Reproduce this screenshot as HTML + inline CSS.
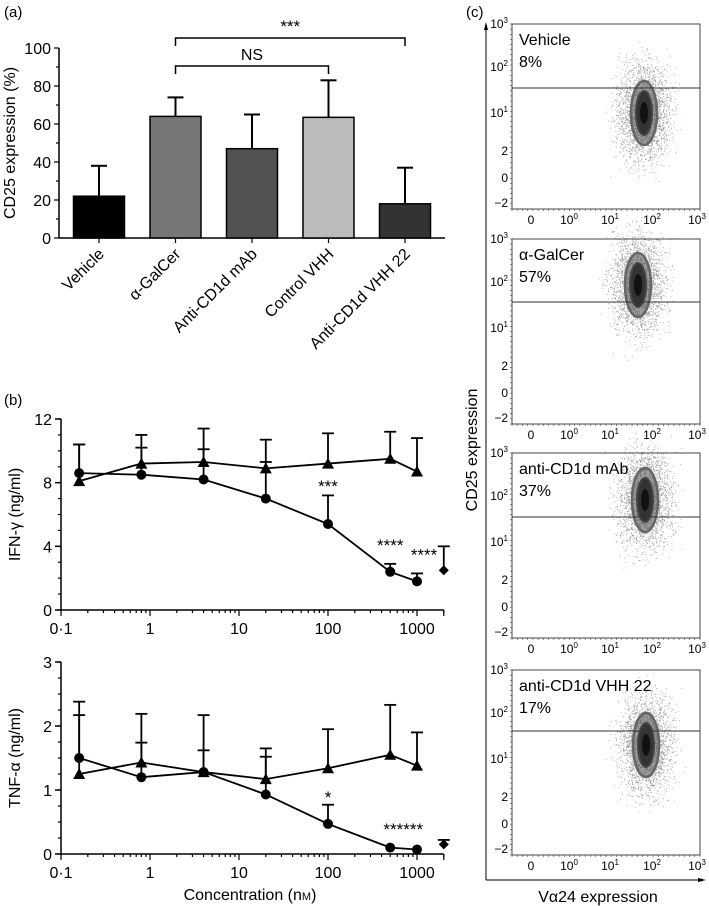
<!DOCTYPE html>
<html><head><meta charset="utf-8"><style>
html,body{margin:0;padding:0;background:#fff}
svg{display:block;font-family:"Liberation Sans",Arial,sans-serif}
</style></head><body>
<svg id="fig" width="709" height="906" viewBox="0 0 709 906" xmlns="http://www.w3.org/2000/svg">
<text x="4" y="17" font-size="15">(a)</text>
<text x="4" y="405" font-size="15">(b)</text>
<text x="466" y="17" font-size="15">(c)</text>
<g id="pa"></g>
<g id="pb1"></g>
<g id="pb2"></g>
<g id="pc"></g>
</svg>
<script>
// ---- Panel (a) data
const barCats = ["Vehicle","\u03b1-GalCer","Anti-CD1d mAb","Control VHH","Anti-CD1d VHH 22"];
const barVals = [22,64,47,63.5,18];
const barErr = [38,74,65,83,37];
const barColors = ["#000","#767676","#525252","#bbbbbb","#333"];
const barTicks = [0,20,40,60,80,100];
// ---- Panel (b) data
const concX = [0.16,0.8,4,20,100,500,1000];
const ifnCircle = [8.6,8.5,8.2,7.0,5.4,2.4,1.8];
const ifnCircleErr = [10.4,10.2,10.1,9.3,7.2,2.9,2.3];
const ifnTri = [8.1,9.2,9.3,8.9,9.2,9.5,8.7];
const ifnTriErr = [10.4,11.0,11.4,10.7,11.1,11.2,10.8];
const ifnDiamond = [2000,2.5,4.0];
const tnfCircle = [1.5,1.2,1.28,0.93,0.47,0.1,0.07];
const tnfCircleErr = [2.17,1.74,1.62,1.52,0.77,0.1,0.07];
const tnfTri = [1.25,1.43,1.28,1.17,1.34,1.55,1.38];
const tnfTriErr = [2.38,2.19,2.17,1.65,1.95,2.33,1.9];
const tnfDiamond = [2000,0.15,0.22];
const xTickVals = [0.1,1,10,100,1000];
const xTickLabels = ["0\u00b71","1","10","100","1000"];
// ---- Panel (c) data
const flowNames = ["Vehicle","\u03b1-GalCer","anti-CD1d mAb","anti-CD1d VHH 22"];
const flowPct = ["8%","57%","37%","17%"];
const flowGate = [64,63,64,61];
const flowBlobY = [89,46,47,75];
const flowBlobX = [132,126,133,134];

const NS="http://www.w3.org/2000/svg";
function mk(p,t,a,txt){const e=document.createElementNS(NS,t);for(const k in a)e.setAttribute(k,a[k]);if(txt!==undefined)e.textContent=txt;p.appendChild(e);return e;}

// ===== Panel a
(function(){
const g=document.getElementById('pa');
const X0=59,X1=445,Y0=238,Y100=48;
const y=v=>Y0+(Y100-Y0)*v/100;
const bx=i=>99+i*76.5;
mk(g,'line',{x1:X0,y1:Y100,x2:X0,y2:Y0,stroke:'#000','stroke-width':1.5});
mk(g,'line',{x1:X0,y1:Y0,x2:X1,y2:Y0,stroke:'#000','stroke-width':1.5});
for(let v=0;v<=100;v+=10){mk(g,'line',{x1:X0-(v%20?3:5),y1:y(v),x2:X0,y2:y(v),stroke:'#000','stroke-width':1.2});}
barTicks.forEach(v=>{const t=mk(g,'text',{x:X0-8,y:y(v)+6,'font-size':16,'text-anchor':'end'},v);
});
const yl=mk(g,'text',{x:0,y:0,'font-size':16,'text-anchor':'middle',transform:`translate(15,${y(50)}) rotate(-90)`},'CD25 expression (%)');

barCats.forEach((c,i)=>{
 const cx=bx(i),w=51;
 mk(g,'line',{x1:cx,y1:y(barVals[i]),x2:cx,y2:y(barErr[i]),stroke:'#000','stroke-width':2});
 mk(g,'line',{x1:cx-8,y1:y(barErr[i]),x2:cx+8,y2:y(barErr[i]),stroke:'#000','stroke-width':2});
 const r=mk(g,'rect',{x:cx-w/2,y:y(barVals[i]),width:w,height:Y0-y(barVals[i]),fill:barColors[i],stroke:'#000','stroke-width':1.5});
 
 mk(g,'line',{x1:cx,y1:Y0,x2:cx,y2:Y0+5,stroke:'#000','stroke-width':1.2});
 const t=mk(g,'text',{x:0,y:0,'font-size':16,'text-anchor':'end',transform:`translate(${cx+6},${Y0+17}) rotate(-45)`},c);
 
});
function br(i,j,yy,lab,fs){mk(g,'path',{d:`M${bx(i)},${yy+8}V${yy}H${bx(j)}V${yy+8}`,fill:'none',stroke:'#000','stroke-width':1.5});
 const t=mk(g,'text',{x:(bx(i)+bx(j))/2,y:yy-6,'font-size':fs,'text-anchor':'middle'},lab);
 }
br(1,4,38,'***',17);br(1,3,66,'NS',16);
})();

// ===== Panel b
function lineChart(id,Y0,Ytop,ymax,ticks,minor,title,circ,circE,tri,triE,dia,stars){
const g=document.getElementById(id);
const X0=61;
const x=v=>150+89*Math.log10(v);
const y=v=>Y0+(Ytop-Y0)*v/ymax;
mk(g,'line',{x1:X0,y1:Ytop,x2:X0,y2:Y0,stroke:'#000','stroke-width':1.5});
mk(g,'line',{x1:X0,y1:Y0,x2:x(2000),y2:Y0,stroke:'#000','stroke-width':1.5});
for(let v=0;v<=ymax+1e-9;v+=minor){mk(g,'line',{x1:X0-3,y1:y(v),x2:X0,y2:y(v),stroke:'#000','stroke-width':1.2});}
ticks.forEach(v=>{mk(g,'line',{x1:X0-6,y1:y(v),x2:X0,y2:y(v),stroke:'#000','stroke-width':1.5});
 const t=mk(g,'text',{x:X0-9,y:y(v)+6,'font-size':16,'text-anchor':'end'},v);
 });
for(let d=-1;d<=3;d++)for(let k=1;k<=9;k++){const v=k*Math.pow(10,d);if(v>2000)break;
 mk(g,'line',{x1:x(v),y1:Y0,x2:x(v),y2:Y0+(k==1?6:3),stroke:'#000','stroke-width':1.2});}
mk(g,'line',{x1:x(2000),y1:Y0,x2:x(2000),y2:Y0+6,stroke:'#000','stroke-width':1.2});
xTickVals.forEach((v,i)=>{const t=mk(g,'text',{x:x(v),y:Y0+24,'font-size':16,'text-anchor':'middle'},xTickLabels[i]);
 });
const yl=mk(g,'text',{x:0,y:0,'font-size':16,'text-anchor':'middle',transform:`translate(20,${(Y0+Ytop)/2}) rotate(-90)`},title);

function err(xv,v,e){if(e<=v)return;mk(g,'line',{x1:x(xv),y1:y(v),x2:x(xv),y2:y(e),stroke:'#000','stroke-width':1.8});
 mk(g,'line',{x1:x(xv)-6,y1:y(e),x2:x(xv)+6,y2:y(e),stroke:'#000','stroke-width':1.8});}
concX.forEach((c,i)=>{err(c,circ[i],circE[i]);err(c,tri[i],triE[i]);});
const lc=mk(g,'polyline',{points:concX.map((c,i)=>x(c)+','+y(circ[i])).join(' '),fill:'none',stroke:'#000','stroke-width':1.8});

const lt=mk(g,'polyline',{points:concX.map((c,i)=>x(c)+','+y(tri[i])).join(' '),fill:'none',stroke:'#000','stroke-width':1.8});

concX.forEach((c,i)=>{
 const p=mk(g,'circle',{cx:x(c),cy:y(circ[i]),r:5,fill:'#000'});
 
 const X=x(c),Y=y(tri[i]);
 const q=mk(g,'polygon',{points:`${X},${Y-6} ${X-6},${Y+5} ${X+6},${Y+5}`,fill:'#000'});
 
});
err(dia[0],dia[1],dia[2]);
const X=x(dia[0]),Y=y(dia[1]);
const d=mk(g,'polygon',{points:`${X},${Y-5} ${X+5},${Y} ${X},${Y+5} ${X-5},${Y}`,fill:'#000'});

stars.forEach(s=>{const t=mk(g,'text',{x:x(s[0]),y:y(s[1]),'font-size':17,'text-anchor':'middle'},s[2]);
 });
return {g,x,Y0};
}
lineChart('pb1',610,419,12,[0,4,8,12],1,'IFN-\u03b3 (ng/ml)',ifnCircle,ifnCircleErr,ifnTri,ifnTriErr,ifnDiamond,
 [[100,7.4,'***'],[500,3.7,'****'],[1200,3.1,'****']]);
const r2=lineChart('pb2',854,662,3,[0,1,2,3],0.25,'TNF-\u03b1 (ng/ml)',tnfCircle,tnfCircleErr,tnfTri,tnfTriErr,tnfDiamond,
 [[100,0.8,'*'],[700,0.3,'******']]);
(function(){const t=mk(r2.g,'text',{x:250,y:900,'font-size':16,'text-anchor':'middle'},'Concentration (n');
 mk(t,'tspan',{'font-size':11},'M');t.appendChild(document.createTextNode(')'));
 })();

// ===== Panel c
(function(){
const g=document.getElementById('pc');
mk(g,'line',{x1:486,y1:28,x2:486,y2:880,stroke:'#000','stroke-width':1});
mk(g,'polygon',{points:'486,22 484,30 488,30',fill:'#000'});
mk(g,'line',{x1:486,y1:880,x2:700,y2:880,stroke:'#000','stroke-width':1});
mk(g,'polygon',{points:'706,880 698,878 698,882',fill:'#000'});
let t=mk(g,'text',{x:0,y:0,'font-size':16,'text-anchor':'middle',transform:'translate(477,450) rotate(-90)'},'CD25 expression');

t=mk(g,'text',{x:598,y:902,'font-size':16,'text-anchor':'middle'},'V\u03b124 expression');

const tops=[24,239,453,670];const L=512,W=188,H=185;
const yt=[[0,'10','3'],[43,'10','2'],[89,'10','1'],[127,'2'],[154,'0'],[179,'\u22122']];
const xt=[[19,'0'],[57,'10','0'],[98,'10','1'],[140,'10','2'],[185,'10','3']];
let seed=7;const rnd=()=>{seed=(seed*16807)%2147483647;return seed/2147483647;};
const gauss=()=>{let s=0;for(let i=0;i<4;i++)s+=rnd();return (s-2)/0.58;};
tops.forEach((T,k)=>{
 const p=mk(g,'g',{});
 mk(p,'rect',{x:L,y:T,width:W,height:H,fill:'#fff',stroke:'#444','stroke-width':1});
 for(let i=0;i<=36;i++){mk(p,'line',{x1:L-2,y1:T+i*H/36,x2:L,y2:T+i*H/36,stroke:'#444','stroke-width':0.6});
  mk(p,'line',{x1:L+i*W/36,y1:T+H,x2:L+i*W/36,y2:T+H+2,stroke:'#444','stroke-width':0.6});}
 yt.forEach(a=>{const e=mk(p,'text',{x:L-4,y:T+a[0]+4,'font-size':12,'text-anchor':'end'},a[1]);
  if(a[2])mk(e,'tspan',{'font-size':8,dy:-5},a[2]);});
 xt.forEach(a=>{const e=mk(p,'text',{x:L+a[0],y:T+H+15,'font-size':12,'text-anchor':'middle'},a[1]);
  if(a[2])mk(e,'tspan',{'font-size':8,dy:-5},a[2]);});
 const cx=L+flowBlobX[k],cy=T+flowBlobY[k];
 let d='';for(let i=0;i<2600;i++){const dx=gauss()*13,dy=gauss()*24;d+=`M${(cx+dx).toFixed(1)},${(cy+dy).toFixed(1)}h0.8v0.8h-0.8z`;}
 mk(p,'path',{d:d,fill:'#333','fill-opacity':0.55});
 mk(p,'ellipse',{cx:cx,cy:cy,rx:13,ry:32,fill:'#555','fill-opacity':0.55,stroke:'#666','stroke-width':2.5});
 mk(p,'ellipse',{cx:cx,cy:cy,rx:8,ry:22,fill:'#333',stroke:'#444','stroke-width':2});
 mk(p,'ellipse',{cx:cx,cy:cy,rx:4,ry:11,fill:'#111'});
 const gl=mk(p,'line',{x1:L,y1:T+flowGate[k],x2:L+W,y2:T+flowGate[k],stroke:'#333','stroke-width':1});
 
 let e=mk(p,'text',{x:L+7,y:T+21,'font-size':16},flowNames[k]);
 
 e=mk(p,'text',{x:L+7,y:T+43,'font-size':16},flowPct[k]);
 
});
})();
</script>
</body></html>
